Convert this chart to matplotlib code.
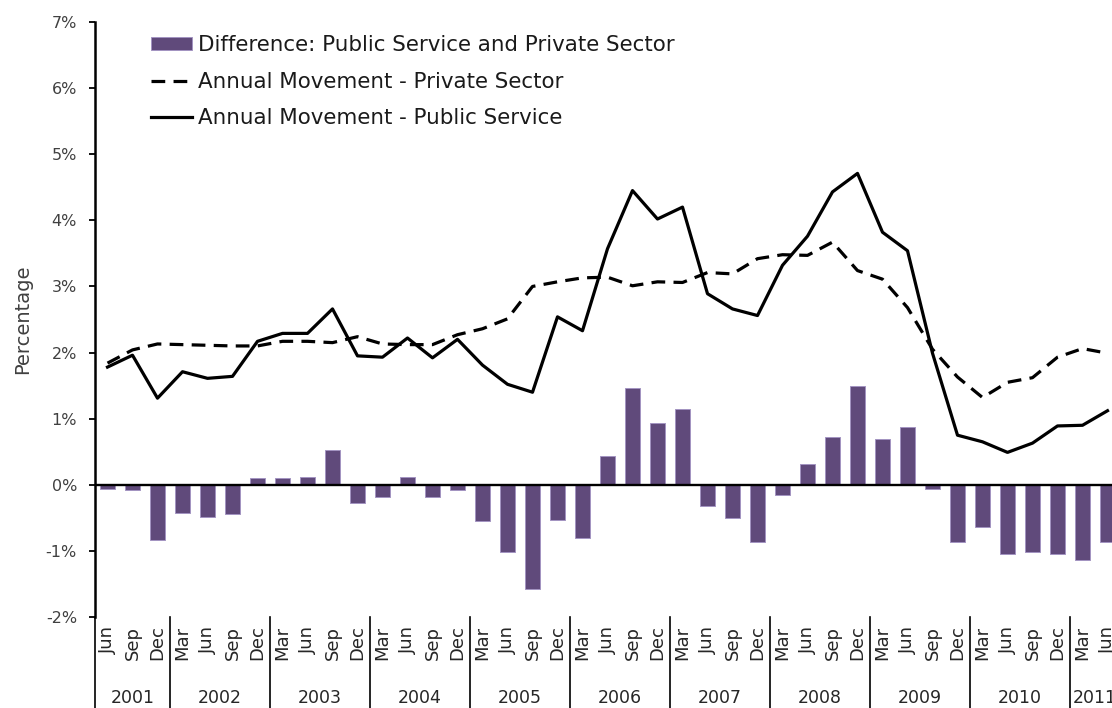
import numpy as np
import matplotlib.pyplot as plt
from matplotlib.patches import Patch
from matplotlib.lines import Line2D

# Quarterly series, Jun 2001 to Jun 2011
years = ['2001', '2002', '2003', '2004', '2005', '2006', '2007', '2008', '2009', '2010', '2011']
year_counts = [3, 4, 4, 4, 4, 4, 4, 4, 4, 4, 2]
months = (['Jun', 'Sep', 'Dec'] + ['Mar', 'Jun', 'Sep', 'Dec'] * 9 + ['Mar', 'Jun'])

public = [1.78, 1.96, 1.31, 1.71, 1.61, 1.64, 2.17, 2.29, 2.29, 2.66, 1.95,
          1.93, 2.22, 1.92, 2.20, 1.81, 1.52, 1.40, 2.54, 2.33,
          3.57, 4.45, 4.02, 4.20, 2.89, 2.66, 2.56, 3.32, 3.76, 4.43,
          4.71, 3.82, 3.54, 1.99, 0.75, 0.65, 0.49, 0.63, 0.89, 0.90, 1.12]

private = [1.84, 2.04, 2.13, 2.12, 2.11, 2.10, 2.10, 2.17, 2.17, 2.15, 2.24,
           2.13, 2.12, 2.12, 2.27, 2.36, 2.51, 3.00, 3.07, 3.13,
           3.14, 3.01, 3.07, 3.06, 3.21, 3.19, 3.42, 3.48, 3.47, 3.67,
           3.24, 3.11, 2.68, 2.05, 1.63, 1.32, 1.55, 1.62, 1.93, 2.06, 1.99]

difference = [-0.06, -0.08, -0.84, -0.42, -0.49, -0.44, 0.10, 0.10, 0.12, 0.52, -0.28,
              -0.19, 0.12, -0.19, -0.08, -0.55, -1.02, -1.58, -0.53, -0.80,
              0.43, 1.46, 0.94, 1.15, -0.32, -0.51, -0.86, -0.15, 0.32, 0.73,
              1.49, 0.69, 0.88, -0.06, -0.87, -0.64, -1.04, -1.01, -1.04, -1.14, -0.87]

plt.rcParams['font.family'] = ['DejaVu Sans']

W, H = 1112, 708
fig = plt.figure(figsize=(W / 100, H / 100), dpi=100)
# plot area runs a little past the right edge of the canvas
ax = fig.add_axes([95 / W, (H - 617) / H, 1025 / W, 595 / H])

x = np.arange(len(months))
purple = '#604a7b'
ax.bar(x, difference, width=0.62, color=purple, edgecolor='#a394c2', linewidth=0.7, zorder=2)
ax.plot(x, private, color='black', linewidth=2.3, dashes=(4.3, 2.6), dash_capstyle='butt', zorder=3)
ax.plot(x, public, color='black', linewidth=2.3, zorder=4)
ax.axhline(0, color='black', linewidth=1.7, zorder=3)

ax.set_xlim(-0.5, len(months) - 0.5)
ax.set_ylim(-2, 7)
ax.set_yticks(range(-2, 8))
ax.set_yticklabels([f'{v}%' for v in range(-2, 8)])
ax.tick_params(axis='y', direction='out', length=4, width=1.3, colors='black',
               labelcolor='#404040', labelsize=11.5, pad=9)
ax.set_xticks([])
for side in ['top', 'right', 'bottom']:
    ax.spines[side].set_visible(False)
ax.spines['left'].set_linewidth(1.8)
ax.set_ylabel('Percentage', fontsize=14, color='#404040', labelpad=10)

# two-level category labels under the plot
trans = ax.get_xaxis_transform()
for i, m in enumerate(months):
    ax.text(i, -2.13, m, rotation=90, ha='center', va='top', fontsize=13,
            color='#262626')
start = 0
bounds = [-0.5]
for yr, n in zip(years, year_counts):
    mid = start + (n - 1) / 2
    ax.text(mid, -3.22, yr, ha='center', va='center', fontsize=12.5, color='#262626')
    start += n
    bounds.append(start - 0.5)
for b in bounds:
    ax.plot([b, b], [0, -0.25], transform=trans, color='black', linewidth=1.2,
            clip_on=False)

handles = [Patch(facecolor=purple, edgecolor='#a394c2', linewidth=0.7),
           Line2D([], [], color='black', linewidth=2.3, dashes=(4.3, 2.6)),
           Line2D([], [], color='black', linewidth=2.3)]
labels = ['Difference: Public Service and Private Sector',
          'Annual Movement - Private Sector',
          'Annual Movement - Public Service']
leg = fig.legend(handles, labels, loc='upper left', bbox_to_anchor=(151 / W, 1 - 35 / H),
                 frameon=False, fontsize=15.4, handlelength=1.9, handleheight=0.6,
                 handletextpad=0.28, labelspacing=0.78, borderpad=0, borderaxespad=0)
for t in leg.get_texts():
    t.set_color('#1a1a1a')

fig.savefig('out.png', dpi=100)
